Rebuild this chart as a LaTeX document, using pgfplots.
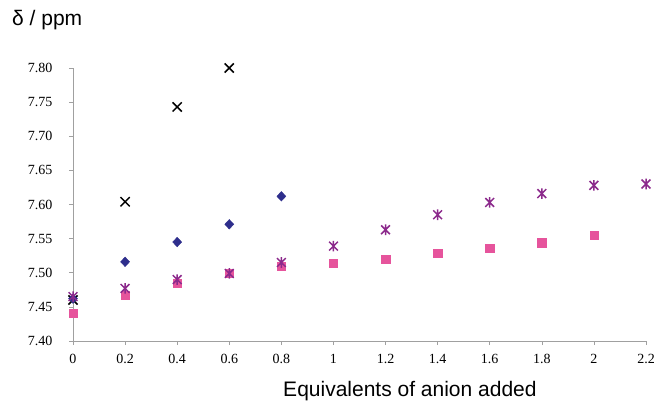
\documentclass[border=0pt]{standalone}
\usepackage{fontspec}
\setmainfont{Liberation Serif}
\newfontfamily\arial{Liberation Sans}
\usepackage{pgfplots}
\pgfplotsset{compat=1.18}
\definecolor{navyd}{HTML}{2E2E8C}
\definecolor{pinks}{HTML}{E6549C}
\definecolor{purps}{HTML}{8C2A8C}
\definecolor{axgray}{HTML}{A0A0A0}
\pgfdeclareplotmark{xstar}{%
  \pgfpathmoveto{\pgfqpoint{-\pgfplotmarksize}{-\pgfplotmarksize}}%
  \pgfpathlineto{\pgfqpoint{\pgfplotmarksize}{\pgfplotmarksize}}%
  \pgfpathmoveto{\pgfqpoint{-\pgfplotmarksize}{\pgfplotmarksize}}%
  \pgfpathlineto{\pgfqpoint{\pgfplotmarksize}{-\pgfplotmarksize}}%
  \pgfpathmoveto{\pgfqpoint{0pt}{-1.2\pgfplotmarksize}}%
  \pgfpathlineto{\pgfqpoint{0pt}{1.2\pgfplotmarksize}}%
  \pgfusepathqstroke}
\begin{document}
\begin{tikzpicture}
\useasboundingbox (0,0) rectangle (655pt,402pt);
\begin{axis}[
  at={(73pt,61pt)}, anchor=south west,
  scale only axis, width=573pt, height=273pt,
  xmin=0, xmax=2.2, ymin=7.40, ymax=7.80,
  axis x line=bottom, axis y line=left,
  axis line style={draw=axgray, -},
  tick align=outside, major tick length=4pt,
  tick style={draw=axgray, line width=0.6pt},
  xtick={0,0.2,...,2.2},
  xticklabels={0,0.2,0.4,0.6,0.8,1,1.2,1.4,1.6,1.8,2,2.2},
  ytick={7.40,7.45,...,7.80},
  /pgf/number format/assume math mode=true,
  ticklabel style={font=\fontsize{14}{15}\selectfont, text=black},
  yticklabel style={/pgf/number format/fixed, /pgf/number format/fixed zerofill, /pgf/number format/precision=2, /tikz/xshift=-13pt},
  xticklabel style={/tikz/yshift=-6pt},
  clip=false,
  xlabel={\arial\fontsize{21}{24}\selectfont Equivalents of anion added},
  xlabel style={at={(axis description cs:0.588,-0.205)}, anchor=base},
  ylabel={\arial\fontsize{21}{24}\selectfont δ / ppm},
  ylabel style={rotate=-90, at={(axis description cs:-0.045,1.176)}, anchor=center},
]
\addplot[only marks, mark=x, mark size=6.5pt, line width=1.5pt, black] coordinates {
 (0,7.460) (0.2,7.604) (0.4,7.743) (0.6,7.800)};
\addplot[only marks, mark=diamond*, mark size=6pt, navyd, mark options={fill=navyd, draw=navyd, yscale=0.8}] coordinates {
 (0,7.462) (0.2,7.516) (0.4,7.545) (0.6,7.571) (0.8,7.612)};
\addplot[only marks, mark=square*, mark size=4.2pt, pinks, mark options={fill=pinks, draw=pinks}] coordinates {
 (0,7.441) (0.2,7.467) (0.4,7.485) (0.6,7.499) (0.8,7.510) (1.0,7.514) (1.2,7.520) (1.4,7.529) (1.6,7.536) (1.8,7.544) (2.0,7.555)};
\addplot[only marks, mark=xstar, mark size=4.4pt, line width=1.5pt, purps] coordinates {
 (0,7.465) (0.2,7.477) (0.4,7.490) (0.6,7.499) (0.8,7.515) (1.0,7.539) (1.2,7.563) (1.4,7.585) (1.6,7.603) (1.8,7.616) (2.0,7.628) (2.2,7.630)};
\end{axis}
\end{tikzpicture}
\end{document}
